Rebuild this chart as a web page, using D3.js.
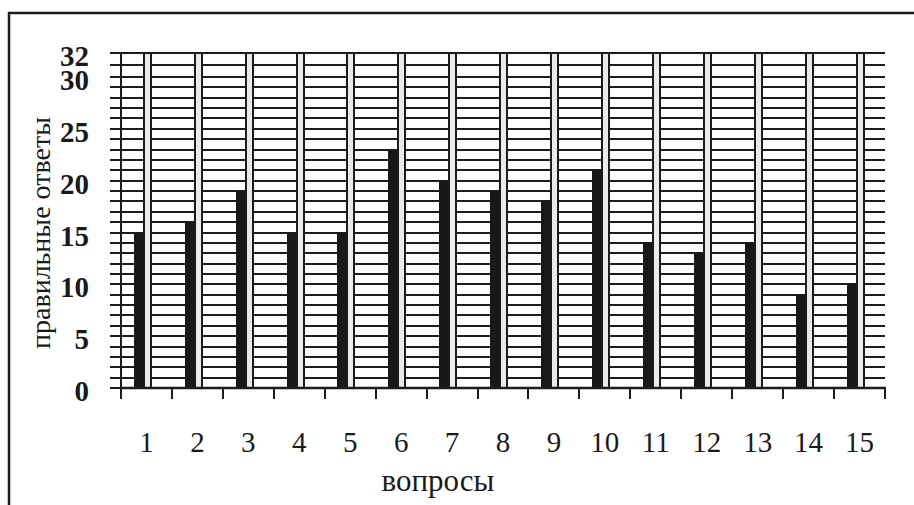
<!DOCTYPE html>
<html>
<head>
<meta charset="utf-8">
<script src="https://cdn.jsdelivr.net/npm/d3@7/dist/d3.min.js"></script>
<style>
    body { margin: 0; background: #fff; }
    svg { display: block; }
    text { font-family: 'Liberation Serif', 'Times New Roman', serif; fill: #1a1a1a; }
</style>
</head>
<body>
<div class="chart"></div>
<script>
// question numbers and number of correct answers for each
const categories = ['1', '2', '3', '4', '5', '6', '7', '8', '9', '10', '11', '12', '13', '14', '15'];
const correctAnswers = [15, 16, 19, 15, 15, 23, 20, 19, 18, 21, 14, 13, 14, 9, 10];
const yTickLabels = [0, 5, 10, 15, 20, 25, 30, 32];
const yMax = 32;

const svgWidth = 914;
const svgHeight = 505;
const ink = '#1c1c1c';

const xScale = d3.scaleBand().domain(categories).range([121, 885]).padding(0);
// the scan is a bit stretched at the very top, so 30..32 gets more room
const yScale = d3.scaleLinear().domain([0, 30, yMax]).range([388, 77, 53]);
const bw = xScale.bandwidth();
const yPix = (d) => Math.round(yScale(d));

const svg = d3
    .select('.chart')
    .append('svg')
    .attr('width', svgWidth)
    .attr('height', svgHeight);

// frame round the picture (only top and left edges visible)
svg.append('path')
    .attr('d', `M9,${svgHeight} V13 H${svgWidth}`)
    .attr('fill', 'none')
    .attr('stroke', ink)
    .attr('stroke-width', 2.5);

// horizontal grid, one line per answer, with the small outer tick
const gridValues = d3.range(0, yMax + 1);
svg.selectAll('line.grid')
    .data(gridValues)
    .join('line')
    .attr('class', 'grid')
    .attr('x1', 110)
    .attr('x2', xScale.range()[1])
    .attr('y1', (d) => yPix(d))
    .attr('y2', (d) => yPix(d))
    .attr('stroke', ink)
    .attr('stroke-width', 2);

// light column next to every bar, full axis height
svg.selectAll('rect.strip')
    .data(categories)
    .join('rect')
    .attr('class', 'strip')
    .attr('x', (d) => Math.round(xScale(d) + bw * 0.446))
    .attr('y', yPix(yMax))
    .attr('width', Math.round(bw * 0.14))
    .attr('height', yPix(0) - yPix(yMax))
    .attr('fill', '#ebebeb')
    .attr('stroke', ink)
    .attr('stroke-width', 2);

// bars
svg.selectAll('rect.bar')
    .data(correctAnswers)
    .join('rect')
    .attr('class', 'bar')
    .attr('x', (d, i) => Math.round(xScale(categories[i]) + bw * 0.25))
    .attr('y', (d) => yPix(d))
    .attr('width', Math.round(bw * 0.196))
    .attr('height', (d) => yPix(0) - yPix(d))
    .attr('fill', '#181818');

// y axis line
svg.append('line')
    .attr('x1', xScale.range()[0])
    .attr('x2', xScale.range()[0])
    .attr('y1', yPix(yMax) - 1)
    .attr('y2', yPix(0) + 11)
    .attr('stroke', ink)
    .attr('stroke-width', 2);

// x axis line and ticks on category borders
svg.append('line')
    .attr('x1', xScale.range()[0] - 1)
    .attr('x2', xScale.range()[1] + 1)
    .attr('y1', yPix(0))
    .attr('y2', yPix(0))
    .attr('stroke', ink)
    .attr('stroke-width', 2.5);

const borders = categories.map((d) => Math.round(xScale(d))).concat([xScale.range()[1]]);
svg.selectAll('line.xtick')
    .data(borders)
    .join('line')
    .attr('class', 'xtick')
    .attr('x1', (d) => d)
    .attr('x2', (d) => d)
    .attr('y1', yPix(0))
    .attr('y2', yPix(0) + 11)
    .attr('stroke', ink)
    .attr('stroke-width', 2);

// y tick labels
svg.selectAll('text.ylabel')
    .data(yTickLabels)
    .join('text')
    .attr('class', 'ylabel')
    .attr('x', 89)
    .attr('y', (d) => yScale(d))
    .attr('dy', '0.45em')
    .attr('text-anchor', 'end')
    .attr('font-size', '29px')
    .attr('font-weight', 'bold')
    .text((d) => d);

// x tick labels
svg.selectAll('text.xlabel')
    .data(categories)
    .join('text')
    .attr('class', 'xlabel')
    .attr('x', (d) => xScale(d) + bw / 2)
    .attr('y', 452)
    .attr('text-anchor', 'middle')
    .attr('font-size', '29px')
    .text((d) => d);

// axis titles
svg.append('text')
    .attr('transform', 'translate(50,233) rotate(-90)')
    .attr('text-anchor', 'middle')
    .attr('font-size', '28px')
    .text('правильные ответы');

svg.append('text')
    .attr('x', 438)
    .attr('y', 491)
    .attr('text-anchor', 'middle')
    .attr('font-size', '31px')
    .text('вопросы');
</script>
</body>
</html>
